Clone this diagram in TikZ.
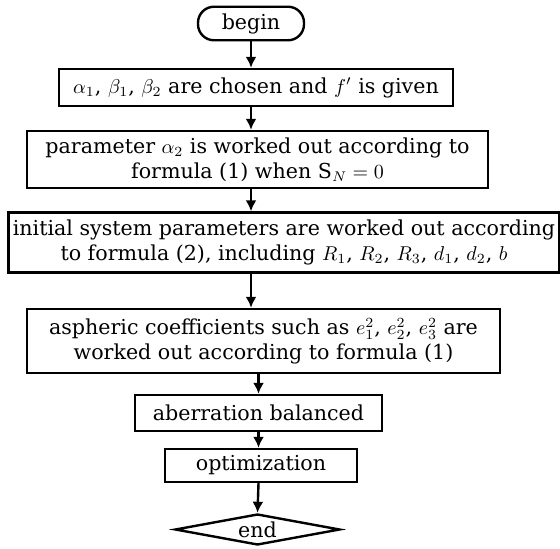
\documentclass[tikz,border=0pt]{standalone}
\usepackage{amsmath}
\usepackage{fontspec}
\setmainfont{DejaVu Serif}
\usepackage{tikz}
\usetikzlibrary{shapes,arrows.meta,positioning,calc}

\begin{document}
\begin{tikzpicture}[
    x=0.5pt, y=-0.5pt,
    flowbox/.style={rectangle, draw=black, line width=1.2pt, align=center, inner sep=1pt, font=\fontsize{10.3}{12.5}\selectfont},
    termbox/.style={rectangle, draw=black, line width=1.2pt, rounded corners=8pt, minimum width=53pt, minimum height=16.5pt, font=\fontsize{10.3}{12.5}\selectfont},
    endbox/.style={diamond, draw=black, line width=1.2pt, aspect=5, inner sep=0pt, minimum width=82.5pt, minimum height=15.5pt, font=\fontsize{10.3}{12.5}\selectfont},
    arrow/.style={-{Latex[length=5.5pt,width=5.5pt]}, line width=1.2pt, draw=black}
]
    \useasboundingbox (0,0) rectangle (560,549);

    \node [termbox] (begin) at (251,23.5) {begin};
    \node [flowbox, minimum width=197pt, minimum height=18.5pt] (choose) at (256,87.5) {$\alpha_1$, $\beta_1$, $\beta_2$ are chosen and $f'$ is given};
    \node [flowbox, minimum width=230.5pt, minimum height=28.5pt] (alpha) at (257.5,159.5) {parameter $\alpha_2$ is worked out according to\\formula (1) when S$_N=0$};
    \node [flowbox, minimum width=275.5pt, minimum height=30pt] (init) at (284,242.5) {initial system parameters are worked out according\\to formula (2), including $R_1$, $R_2$, $R_3$, $d_1$, $d_2$, $b$};
    \node [flowbox, minimum width=236.5pt, minimum height=32pt] (asph) at (263.5,341) {aspheric coefficients such as $e_1^2$, $e_2^2$, $e_3^2$ are\\worked out according to formula (1)};
    \node [flowbox, minimum width=123.5pt, minimum height=18pt] (aber) at (258.5,413) {aberration balanced};
    \node [flowbox, minimum width=96pt, minimum height=16.5pt] (optim) at (261,465.5) {optimization};
    \node [endbox] (end) at (257.5,529.5) {end};

    \draw [arrow] (begin) -- (begin |- choose.north);
    \draw [arrow] (choose.south -| begin) -- (alpha.north -| begin);
    \draw [arrow] (alpha.south -| begin) -- (init.north -| begin);
    \draw [arrow] (init.south -| begin) -- (asph.north -| begin);
    \draw [arrow] (asph.south -| aber) -- (aber.north);
    \draw [arrow] (aber.south) -- (aber.south |- optim.north);
    \draw [arrow] (optim.south -| aber) -- (end.north);
\end{tikzpicture}
\end{document}
